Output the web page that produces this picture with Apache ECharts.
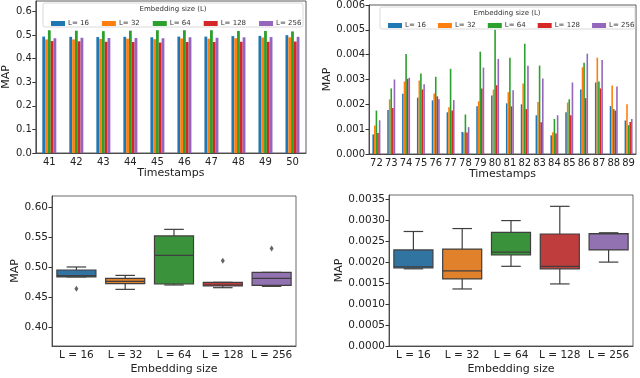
<!DOCTYPE html>
<html>
<head>
<meta charset="utf-8">
<script src="https://cdn.jsdelivr.net/npm/echarts@6/dist/echarts.min.js"></script>
<style>
  html, body { margin: 0; padding: 0; background: #fff; }
  #chart { width: 640px; height: 378px; }
</style>
</head>
<body>
<div id="chart"></div>
<script>
// top-left: MAP per timestamp, first dataset
const tsA = ['41', '42', '43', '44', '45', '46', '47', '48', '49', '50'];
const a16 = [0.494, 0.493, 0.492, 0.493, 0.491, 0.494, 0.494, 0.496, 0.497, 0.500];
const a32 = [0.482, 0.482, 0.484, 0.485, 0.483, 0.486, 0.485, 0.487, 0.490, 0.491];
const a64 = [0.521, 0.519, 0.517, 0.519, 0.521, 0.521, 0.521, 0.518, 0.518, 0.516];
const a128 = [0.475, 0.474, 0.472, 0.471, 0.469, 0.471, 0.471, 0.472, 0.472, 0.473];
const a256 = [0.487, 0.489, 0.488, 0.488, 0.487, 0.491, 0.489, 0.491, 0.492, 0.493];

// top-right: MAP per timestamp, second dataset
const tsB = ['72', '73', '74', '75', '76', '77', '78', '79', '80', '81', '82', '83', '84', '85', '86', '87', '88', '89'];
const b16 = [0.00079, 0.00177, 0.00243, 0.00227, 0.00216, 0.00168, 0.00089, 0.00192, 0.00236, 0.00204, 0.00200, 0.00156, 0.00075, 0.00168, 0.00260, 0.00288, 0.00193, 0.00135];
const b32 = [0.00115, 0.00220, 0.00292, 0.00296, 0.00244, 0.00188, 0.00087, 0.00212, 0.00259, 0.00249, 0.00284, 0.00209, 0.00088, 0.00207, 0.00349, 0.00388, 0.00276, 0.00200];
const b64 = [0.00175, 0.00264, 0.00403, 0.00324, 0.00311, 0.00343, 0.00159, 0.00412, 0.00500, 0.00388, 0.00444, 0.00356, 0.00141, 0.00220, 0.00367, 0.00292, 0.00181, 0.00116];
const b128 = [0.00085, 0.00185, 0.00303, 0.00260, 0.00232, 0.00175, 0.00087, 0.00264, 0.00277, 0.00192, 0.00181, 0.00128, 0.00083, 0.00156, 0.00225, 0.00264, 0.00175, 0.00129];
const b256 = [0.00136, 0.00300, 0.00307, 0.00281, 0.00220, 0.00217, 0.00108, 0.00348, 0.00383, 0.00257, 0.00355, 0.00304, 0.00156, 0.00288, 0.00404, 0.00379, 0.00272, 0.00141];

// box plots: [min, q1, median, q3, max] per embedding size
const sizes = ['L = 16', 'L = 32', 'L = 64', 'L = 128', 'L = 256'];
const boxA = [
    [0.4835, 0.4835, 0.4855, 0.4950, 0.5000],
    [0.4627, 0.4722, 0.4760, 0.4810, 0.4860],
    [0.4700, 0.4716, 0.5194, 0.5517, 0.5627],
    [0.4655, 0.4683, 0.4700, 0.4744, 0.4744],
    [0.4677, 0.4693, 0.4810, 0.4910, 0.4910]
];
const outA = [[0, 0.4638], [3, 0.5105], [4, 0.5310]];
const boxB = [
    [0.00184, 0.00186, 0.00189, 0.00229, 0.00273],
    [0.00136, 0.00160, 0.00179, 0.00231, 0.00280],
    [0.00190, 0.00217, 0.00224, 0.00271, 0.00299],
    [0.00148, 0.00184, 0.00190, 0.00267, 0.00333],
    [0.00200, 0.00229, 0.00268, 0.00268, 0.00270]
];

const ticksA = [0, 0.1, 0.2, 0.3, 0.4, 0.5, 0.6];
const ticksB = [0, 0.001, 0.002, 0.003, 0.004, 0.005, 0.006];
const ticksC = [0.40, 0.45, 0.50, 0.55, 0.60];
const ticksD = [0, 0.0005, 0.001, 0.0015, 0.002, 0.0025, 0.003, 0.0035];

const names = ['L= 16', 'L= 32', 'L= 64', 'L= 128', 'L= 256'];
const barColors = ['#1f77b4', '#ff7f0e', '#2ca02c', '#d62728', '#9467bd'];
const boxColors = ['#3274a1', '#e1812c', '#3a923a', '#c03d3e', '#9372b2'];
const edge = '#3f3f3f';
const font = 'DejaVu Sans';

var chart = echarts.init(document.getElementById('chart'));

function xAx(idx, data, name, fs) {
    return {
        type: 'category', gridIndex: idx, data: data,
        name: name, nameLocation: 'middle', nameGap: idx < 2 ? 15 : 18,
        nameTextStyle: { fontSize: 11, color: '#222', fontFamily: font },
        axisLine: { lineStyle: { color: '#333', width: 0.8 } },
        axisTick: { alignWithLabel: true, length: 3.5, lineStyle: { color: '#333' } },
        axisLabel: { fontSize: fs, color: '#222', fontFamily: font, margin: 4, interval: 0 }
    };
}

function yAx(idx, min, max, ticks, dec, gap, fs) {
    return {
        type: 'value', gridIndex: idx, min: min, max: max,
        name: 'MAP', nameLocation: 'middle', nameGap: gap,
        nameTextStyle: { fontSize: 11, color: '#222', fontFamily: font },
        axisLine: { show: true, lineStyle: { color: '#333', width: 0.8 } },
        axisTick: { show: true, length: 3.5, customValues: ticks, lineStyle: { color: '#333' } },
        axisLabel: {
            fontSize: fs, color: '#222', fontFamily: font, margin: 4,
            customValues: ticks,
            formatter: v => v.toFixed(dec)
        },
        splitLine: { show: false }
    };
}

function bars(grid, lists, width) {
    return lists.map((d, i) => ({
        name: names[i], type: 'bar',
        xAxisIndex: grid, yAxisIndex: grid,
        data: d, barWidth: width, barGap: '0%',
        itemStyle: { color: barColors[i] }
    }));
}

function renderBox(params, api) {
    var x = api.value(0);
    var lo = api.coord([x, api.value(1)]);
    var q1 = api.coord([x, api.value(2)]);
    var md = api.coord([x, api.value(3)]);
    var q3 = api.coord([x, api.value(4)]);
    var hi = api.coord([x, api.value(5)]);
    var band = api.size([1, 0])[0];
    var hw = band * 0.4, cw = band * 0.2, cx = lo[0];
    var st = { stroke: edge, lineWidth: 1.2 };
    return {
        type: 'group',
        children: [
            { type: 'line', shape: { x1: cx, y1: q3[1], x2: cx, y2: hi[1] }, style: st },
            { type: 'line', shape: { x1: cx, y1: q1[1], x2: cx, y2: lo[1] }, style: st },
            { type: 'line', shape: { x1: cx - cw, y1: hi[1], x2: cx + cw, y2: hi[1] }, style: st },
            { type: 'line', shape: { x1: cx - cw, y1: lo[1], x2: cx + cw, y2: lo[1] }, style: st },
            {
                type: 'rect',
                shape: { x: cx - hw, y: q3[1], width: hw * 2, height: q1[1] - q3[1] },
                style: { fill: boxColors[params.dataIndex], stroke: edge, lineWidth: 1.2 }
            },
            { type: 'line', shape: { x1: cx - hw, y1: md[1], x2: cx + hw, y2: md[1] }, style: st }
        ]
    };
}

function boxSeries(grid, rows) {
    return {
        type: 'custom', xAxisIndex: grid, yAxisIndex: grid,
        renderItem: renderBox,
        encode: { x: 0, y: [1, 2, 3, 4, 5] },
        data: rows.map((r, i) => [i].concat(r))
    };
}

function legend(left, top, gap) {
    return {
        data: names, left: left, top: top,
        itemWidth: 14, itemHeight: 5, itemGap: gap,
        icon: 'rect', selectedMode: false,
        textStyle: { fontSize: 7, color: '#333', fontFamily: font, padding: [0, 0, 0, -2] }
    };
}

var option = {
    animation: false,
    textStyle: { fontFamily: font },
    grid: [
        { left: 32, right: 334, top: 1, bottom: 225, show: true, borderColor: '#333', borderWidth: 0.8 },
        { left: 369, right: 4, top: 4, bottom: 224, show: true, borderColor: '#333', borderWidth: 0.8 },
        { left: 52, right: 344, top: 196, bottom: 32, show: true, borderColor: '#444', borderWidth: 0.8 },
        { left: 389, right: 7, top: 195, bottom: 32, show: true, borderColor: '#444', borderWidth: 0.8 }
    ],
    xAxis: [
        xAx(0, tsA, 'Timestamps', 10),
        xAx(1, tsB, 'Timestamps', 10),
        xAx(2, sizes, 'Embedding size', 10.5),
        xAx(3, sizes, 'Embedding size', 10.5)
    ],
    yAxis: [
        yAx(0, 0, 0.645, ticksA, 1, 20, 10),
        yAx(1, 0, 0.006, ticksB, 3, 32, 10),
        yAx(2, 0.3683, 0.6183, ticksC, 2, 31, 10.5),
        yAx(3, 0, 0.0036, ticksD, 4, 42, 10.5)
    ],
    legend: [legend(46, 15, 13), legend(383, 17, 12)],
    graphic: [
        { type: 'rect', z: 3, shape: { x: 43, y: 3, width: 260, height: 24, r: 2 },
          style: { fill: 'rgba(255,255,255,0.8)', stroke: '#d0d0d0', lineWidth: 0.8 } },
        { type: 'text', z: 5, style: { text: 'Embedding size (L)', x: 173, y: 9, fontSize: 7, fill: '#333',
          fontFamily: font, align: 'center', verticalAlign: 'middle' } },
        { type: 'rect', z: 3, shape: { x: 380, y: 7, width: 255, height: 22, r: 2 },
          style: { fill: 'rgba(255,255,255,0.8)', stroke: '#d0d0d0', lineWidth: 0.8 } },
        { type: 'text', z: 5, style: { text: 'Embedding size (L)', x: 507, y: 13, fontSize: 7, fill: '#333',
          fontFamily: font, align: 'center', verticalAlign: 'middle' } }
    ],
    series: [].concat(
        bars(0, [a16, a32, a64, a128, a256], 2.8),
        bars(1, [b16, b32, b64, b128, b256], 1.6),
        [
            boxSeries(2, boxA),
            boxSeries(3, boxB),
            {
                type: 'scatter', xAxisIndex: 2, yAxisIndex: 2,
                data: outA, symbol: 'diamond', symbolSize: [4, 6],
                itemStyle: { color: edge }
            }
        ]
    )
};

chart.setOption(option);
</script>
</body>
</html>
